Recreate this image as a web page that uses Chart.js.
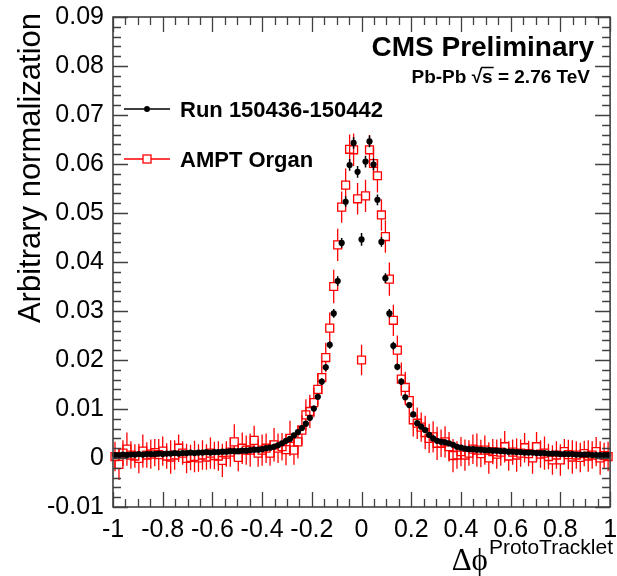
<!DOCTYPE html>
<html>
<head>
<meta charset="utf-8">
<script src="https://cdn.jsdelivr.net/npm/chart.js@4.4.0/dist/chart.umd.min.js"></script>
<style>
  html, body { margin: 0; padding: 0; background: #fff; }
  #wrap { width: 617px; height: 576px; }
</style>
</head>
<body>
<div id="wrap"><canvas id="chart" width="617" height="576"></canvas></div>
<script>
// bins of the delta-phi histogram
const binStart = -0.992;
const binWidth = 0.016;

const seriesNames = ['Run 150436-150442', 'AMPT Organ'];

// data (black points)
const runValues = [
  0.0006,0.0006,0.0007,0.0006,0.0007,0.0007,0.0008,0.0007,0.0008,0.0008,
  0.0008,0.0009,0.0008,0.0009,0.0009,0.0010,0.0009,0.0010,0.0010,0.0011,
  0.0010,0.0011,0.0011,0.0012,0.0011,0.0012,0.0012,0.0013,0.0013,0.0014,
  0.0014,0.0014,0.0015,0.0015,0.0016,0.0017,0.0017,0.0018,0.0020,0.0021,
  0.0023,0.0026,0.0030,0.0035,0.0039,0.0046,0.0053,0.0061,0.0070,0.0082,
  0.0101,0.0125,0.0156,0.0185,0.0231,0.0295,0.0361,0.0439,0.0523,0.0598,
  0.0643,0.0584,0.0446,0.0605,0.0646,0.0599,0.0527,0.0441,0.0367,0.0295,
  0.0229,0.0186,0.0156,0.0124,0.0108,0.0089,0.0071,0.0064,0.0057,0.0047,
  0.0040,0.0035,0.0033,0.0032,0.0030,0.0027,0.0023,0.0021,0.0019,0.0018,
  0.0018,0.0017,0.0017,0.0016,0.0016,0.0015,0.0015,0.0014,0.0014,0.0013,
  0.0013,0.0012,0.0012,0.0011,0.0011,0.0011,0.0010,0.0010,0.0010,0.0009,
  0.0009,0.0009,0.0008,0.0008,0.0008,0.0008,0.0007,0.0007,0.0007,0.0007,
  0.0006,0.0006,0.0006,0.0006,0.0006
];
const runErrors = [
  0.0003,0.0003,0.0003,0.0003,0.0003,0.0003,0.0003,0.0003,0.0003,0.0003,
  0.0003,0.0003,0.0003,0.0003,0.0003,0.0003,0.0003,0.0003,0.0003,0.0003,
  0.0003,0.0003,0.0003,0.0003,0.0003,0.0003,0.0003,0.0003,0.0003,0.0003,
  0.0003,0.0003,0.0003,0.0003,0.0003,0.0003,0.0003,0.0003,0.0003,0.0003,
  0.0003,0.0003,0.0004,0.0004,0.0004,0.0004,0.0005,0.0005,0.0005,0.0006,
  0.0006,0.0006,0.0007,0.0007,0.0008,0.0009,0.0010,0.0010,0.0011,0.0012,
  0.0012,0.0012,0.0013,0.0012,0.0012,0.0012,0.0011,0.0010,0.0010,0.0009,
  0.0008,0.0007,0.0007,0.0006,0.0006,0.0006,0.0005,0.0005,0.0005,0.0004,
  0.0004,0.0004,0.0004,0.0003,0.0003,0.0003,0.0003,0.0003,0.0003,0.0003,
  0.0003,0.0003,0.0003,0.0003,0.0003,0.0003,0.0003,0.0003,0.0003,0.0003,
  0.0003,0.0003,0.0003,0.0003,0.0003,0.0003,0.0003,0.0003,0.0003,0.0003,
  0.0003,0.0003,0.0003,0.0003,0.0003,0.0003,0.0003,0.0003,0.0003,0.0003,
  0.0003,0.0003,0.0003,0.0003,0.0003
];

// AMPT (red open squares)
const amptValues = [
  0.0003,-0.0013,0.0010,0.0018,0.0006,0.0004,-0.0001,0.0014,0.0006,0.0008,
  0.0011,0.0007,0.0014,0.0004,0.0002,0.0006,0.0020,0.0010,-0.0001,0.0001,
  0.0003,0.0000,0.0006,0.0002,0.0010,0.0005,0.0004,-0.0005,0.0008,0.0012,
  0.0033,0.0001,0.0020,0.0016,0.0016,0.0036,0.0010,0.0016,0.0020,0.0010,
  0.0027,0.0020,0.0023,0.0017,0.0040,0.0016,0.0033,0.0057,0.0088,0.0095,
  0.0113,0.0140,0.0164,0.0205,0.0265,0.0350,0.0435,0.0512,0.0557,0.0630,
  0.0629,0.0529,0.0200,0.0535,0.0629,0.0601,0.0576,0.0496,0.0452,0.0365,
  0.0281,0.0220,0.0161,0.0144,0.0117,0.0078,0.0071,0.0063,0.0052,0.0040,
  0.0043,0.0030,0.0030,0.0033,0.0023,0.0005,0.0006,0.0013,0.0006,0.0010,
  0.0018,0.0016,0.0009,0.0016,0.0000,0.0013,0.0008,0.0012,0.0023,0.0004,
  0.0012,0.0006,0.0010,0.0021,0.0009,0.0000,0.0023,0.0008,0.0010,0.0003,
  -0.0004,0.0006,-0.0004,0.0013,0.0007,0.0002,0.0006,0.0001,0.0009,0.0004,
  0.0006,0.0013,0.0000,0.0005,0.0003
];
const amptErrors = [
  0.0030,0.0032,0.0026,0.0034,0.0028,0.0024,0.0030,0.0034,0.0026,0.0030,
  0.0028,0.0032,0.0030,0.0026,0.0034,0.0030,0.0028,0.0024,0.0030,0.0026,
  0.0032,0.0028,0.0030,0.0026,0.0032,0.0028,0.0030,0.0034,0.0026,0.0030,
  0.0036,0.0028,0.0032,0.0030,0.0034,0.0030,0.0028,0.0032,0.0030,0.0026,
  0.0034,0.0030,0.0028,0.0032,0.0036,0.0030,0.0034,0.0030,0.0032,0.0034,
  0.0030,0.0032,0.0034,0.0030,0.0032,0.0034,0.0033,0.0032,0.0034,0.0030,
  0.0033,0.0032,0.0031,0.0033,0.0030,0.0033,0.0034,0.0032,0.0033,0.0034,
  0.0032,0.0030,0.0034,0.0032,0.0030,0.0034,0.0032,0.0030,0.0034,0.0030,
  0.0032,0.0034,0.0028,0.0032,0.0030,0.0034,0.0028,0.0030,0.0032,0.0026,
  0.0030,0.0034,0.0028,0.0030,0.0032,0.0026,0.0030,0.0028,0.0032,0.0030,
  0.0026,0.0034,0.0028,0.0030,0.0026,0.0032,0.0030,0.0028,0.0034,0.0026,
  0.0030,0.0028,0.0032,0.0026,0.0030,0.0034,0.0028,0.0030,0.0026,0.0032,
  0.0028,0.0030,0.0034,0.0026,0.0030
];

// axis ticks
const xTickValues = [-1, -0.8, -0.6, -0.4, -0.2, 0, 0.2, 0.4, 0.6, 0.8, 1];
const xTickLabels = ['-1', '-0.8', '-0.6', '-0.4', '-0.2', '0', '0.2', '0.4', '0.6', '0.8', '1'];
const yTickValues = [-0.01, 0, 0.01, 0.02, 0.03, 0.04, 0.05, 0.06, 0.07, 0.08, 0.09];
const yTickLabels = ['-0.01', '0', '0.01', '0.02', '0.03', '0.04', '0.05', '0.06', '0.07', '0.08', '0.09'];

const SANS = '"Liberation Sans", Arial, Helvetica, sans-serif';
const AXIS_COLOR = '#404040';

const toPoints = vals => vals.map((y, i) => ({ x: +(binStart + i * binWidth).toFixed(3), y: y }));

// error bars, drawn just before each dataset's markers
const errorBars = {
  id: 'errorBars',
  beforeDatasetDraw(chart, args) {
    const ctx = chart.ctx;
    const xs = chart.scales.x, ys = chart.scales.y;
    const isRun = args.index === 0;
    const vals = isRun ? runValues : amptValues;
    const errs = isRun ? runErrors : amptErrors;
    ctx.save();
    ctx.lineWidth = isRun ? 1.5 : 1.3;
    ctx.strokeStyle = isRun ? '#000' : '#ff0000';
    ctx.beginPath();
    args.meta.data.forEach((pt, i) => {
      const px = pt.x, py = pt.y;
      const top = ys.getPixelForValue(vals[i] + errs[i]);
      const bot = ys.getPixelForValue(vals[i] - errs[i]);
      const gap = isRun ? 0 : 4;
      if (py - gap > top) { ctx.moveTo(px, top); ctx.lineTo(px, py - gap); }
      if (bot > py + gap) { ctx.moveTo(px, py + gap); ctx.lineTo(px, bot); }
      if (isRun) {
        const x0 = binStart + i * binWidth;
        ctx.moveTo(xs.getPixelForValue(x0 - binWidth / 2), py);
        ctx.lineTo(xs.getPixelForValue(x0 + binWidth / 2), py);
      }
    });
    ctx.stroke();
    ctx.restore();
  }
};

// frame with ticks on all four sides
const frame = {
  id: 'frame',
  afterDraw(chart) {
    const ctx = chart.ctx, ca = chart.chartArea;
    const xs = chart.scales.x, ys = chart.scales.y;
    ctx.save();
    ctx.strokeStyle = AXIS_COLOR;
    ctx.lineWidth = 1.3;
    ctx.beginPath();
    for (let k = 0; k <= 40; k++) {
      const p = Math.round(xs.getPixelForValue(-1 + k * 0.05)) + 0.5;
      const len = k % 4 === 0 ? 15 : 8;
      ctx.moveTo(p, ca.bottom); ctx.lineTo(p, ca.bottom - len);
      ctx.moveTo(p, ca.top); ctx.lineTo(p, ca.top + len);
    }
    for (let k = 0; k <= 50; k++) {
      const p = Math.round(ys.getPixelForValue(-0.01 + k * 0.002)) + 0.5;
      const len = k % 5 === 0 ? 15 : 8;
      ctx.moveTo(ca.left, p); ctx.lineTo(ca.left + len, p);
      ctx.moveTo(ca.right, p); ctx.lineTo(ca.right - len, p);
    }
    ctx.stroke();
    ctx.lineWidth = 1.6;
    ctx.strokeRect(ca.left, ca.top, ca.right - ca.left, ca.bottom - ca.top);
    ctx.restore();
  }
};

// titles, legend and labels
const labels = {
  id: 'labels',
  afterDraw(chart) {
    const ctx = chart.ctx;
    ctx.save();
    ctx.fillStyle = '#000';

    // y title
    ctx.save();
    ctx.translate(40, 13);
    ctx.rotate(-Math.PI / 2);
    ctx.font = '31px ' + SANS;
    ctx.textAlign = 'right';
    ctx.textBaseline = 'alphabetic';
    ctx.fillText('Arbitrary normalization', 0, 0);
    ctx.restore();

    // x title: delta phi with superscript
    ctx.textBaseline = 'alphabetic';
    ctx.font = '21px ' + SANS;
    ctx.textAlign = 'right';
    ctx.fillText('ProtoTracklet', 613, 554);
    const supW = ctx.measureText('ProtoTracklet').width;
    ctx.font = '31px "Liberation Serif", "Times New Roman", serif';
    ctx.fillText('\u0394\u03d5', 613 - supW - 1, 570);

    // CMS label
    ctx.font = 'bold 28px ' + SANS;
    ctx.textAlign = 'right';
    ctx.fillText('CMS Preliminary', 594, 56);

    // energy label with sqrt(s)
    ctx.font = 'bold 19px ' + SANS;
    ctx.textAlign = 'left';
    const partA = 'Pb-Pb ', partB = '\u221a', partC = 's', partD = ' = 2.76 TeV';
    const wA = ctx.measureText(partA).width, wB = ctx.measureText(partB).width;
    const wC = ctx.measureText(partC).width, wD = ctx.measureText(partD).width;
    let x0 = 590 - (wA + wB + wC + wD);
    const base = 83;
    ctx.fillText(partA, x0, base);
    ctx.fillText(partB, x0 + wA, base);
    ctx.fillText(partC, x0 + wA + wB, base);
    ctx.fillText(partD, x0 + wA + wB + wC, base);
    ctx.strokeStyle = '#000';
    ctx.lineWidth = 1.5;
    ctx.beginPath();
    ctx.moveTo(x0 + wA + wB - 1, base - 15.5);
    ctx.lineTo(x0 + wA + wB + wC + 1, base - 15.5);
    ctx.stroke();

    // legend
    const rows = [{ y: 109, name: seriesNames[0], run: true }, { y: 159, name: seriesNames[1], run: false }];
    rows.forEach(r => {
      ctx.lineWidth = 1.4;
      ctx.strokeStyle = r.run ? '#000' : '#ff0000';
      ctx.beginPath();
      ctx.moveTo(124, r.y); ctx.lineTo(r.run ? 144 : 143, r.y);
      ctx.moveTo(r.run ? 150 : 151, r.y); ctx.lineTo(170, r.y);
      ctx.stroke();
      if (r.run) {
        ctx.fillStyle = '#000';
        ctx.beginPath(); ctx.arc(147, r.y, 3, 0, Math.PI * 2); ctx.fill();
      } else {
        ctx.lineWidth = 1.3;
        ctx.strokeRect(143, r.y - 4, 8, 8);
      }
      ctx.fillStyle = '#000';
      ctx.font = 'bold 22px ' + SANS;
      ctx.textAlign = 'left';
      ctx.fillText(r.name, 180, r.y + 8);
    });
    ctx.restore();
  }
};

const tickFont = { family: SANS, size: 25 };

new Chart(document.getElementById('chart'), {
  type: 'scatter',
  data: {
    datasets: [
      {
        label: seriesNames[0],
        data: toPoints(runValues),
        pointStyle: 'circle',
        pointRadius: 3.1,
        backgroundColor: '#000',
        borderColor: '#000',
        borderWidth: 0,
        clip: false
      },
      {
        label: seriesNames[1],
        data: toPoints(amptValues),
        pointStyle: 'rect',
        pointRadius: 5.6,
        backgroundColor: 'rgba(255,255,255,0)',
        borderColor: '#ff0000',
        borderWidth: 1.3,
        clip: false
      }
    ]
  },
  options: {
    responsive: false,
    animation: false,
    events: [],
    layout: { padding: { top: 17, right: 4, left: 0, bottom: 0 } },
    plugins: { legend: { display: false }, tooltip: { enabled: false } },
    scales: {
      x: {
        type: 'linear',
        min: -1,
        max: 1,
        afterBuildTicks: s => { s.ticks = xTickValues.map(v => ({ value: v })); },
        afterFit: s => { s.height = 69; s.paddingLeft = 0; s.paddingRight = 0; },
        grid: { display: false, drawTicks: false },
        border: { display: false },
        ticks: {
          callback: (v, i) => xTickLabels[i],
          font: tickFont,
          color: '#000',
          padding: 8,
          maxRotation: 0,
          autoSkip: false
        }
      },
      y: {
        type: 'linear',
        min: -0.01,
        max: 0.09,
        afterBuildTicks: s => { s.ticks = yTickValues.map(v => ({ value: v })); },
        afterFit: s => { s.width = 113; s.paddingTop = 0; s.paddingBottom = 0; },
        grid: { display: false, drawTicks: false },
        border: { display: false },
        ticks: {
          callback: (v, i) => yTickLabels[i],
          font: tickFont,
          color: '#000',
          padding: 9,
          autoSkip: false
        }
      }
    }
  },
  plugins: [errorBars, frame, labels]
});
</script>
</body>
</html>
